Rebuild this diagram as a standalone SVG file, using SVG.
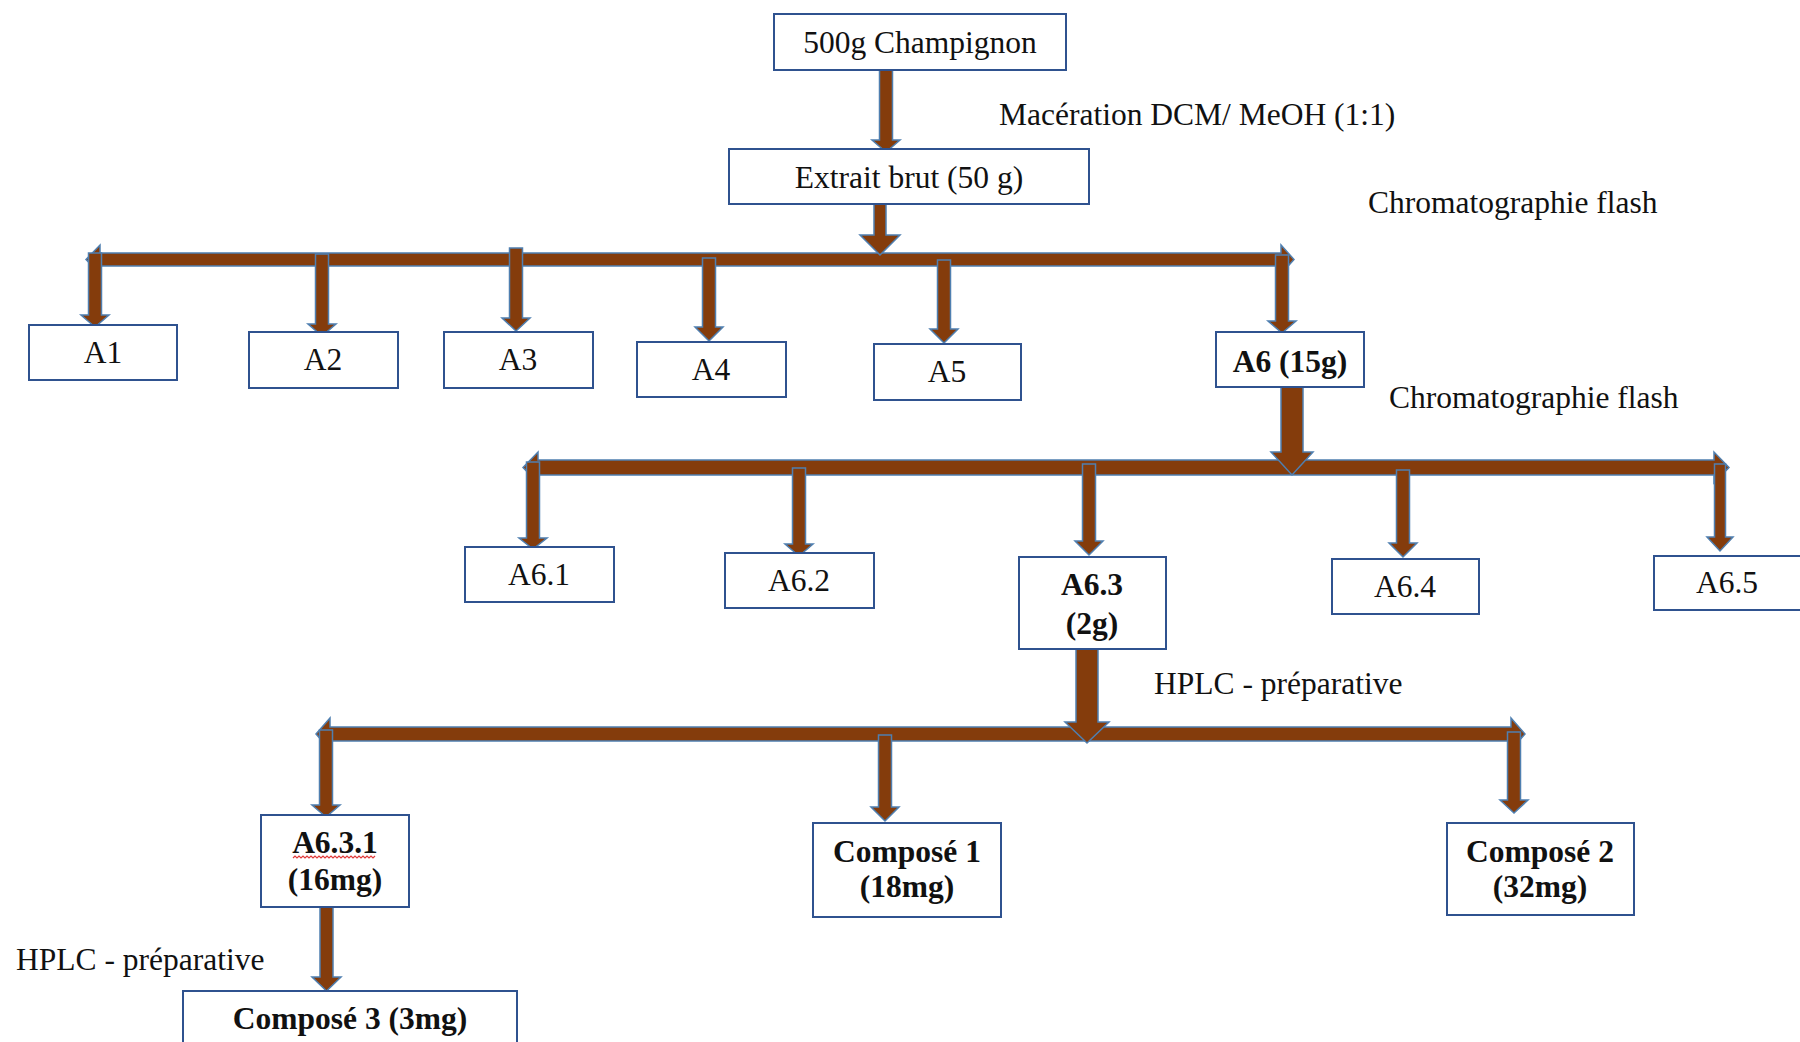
<svg xmlns="http://www.w3.org/2000/svg" width="1800" height="1042" viewBox="0 0 1800 1042">
<defs>
<style>
.box{fill:#fff;stroke:#2F528F;stroke-width:2}
.t{font-family:"Liberation Serif","Times New Roman",serif;font-size:31.5px;fill:#111;text-anchor:middle}
.l{font-family:"Liberation Serif","Times New Roman",serif;font-size:31.5px;fill:#111}
.b{font-weight:bold}
.arr{fill:#843C0C;stroke:#4F7FB0;stroke-width:1.5;stroke-linejoin:miter}
.wavy{fill:none;stroke:#E03A3A;stroke-width:1.2}
</style>
</defs>
<rect width="1800" height="1042" fill="#fff"/>

<g id="connectors">
  <!-- horizontal distribution bars -->
  <path class="arr" d="M86,259.5 L100,245 V253 H1281 V245 L1294,259.5 L1281,274 V266 H100 V274 Z"/>
  <path class="arr" d="M523,467.5 L538,452 V460 H1714 V452 L1729,467.5 L1714,483 V475 H538 V483 Z"/>
  <path class="arr" d="M316,734 L330,718 V727 H1511 V718 L1525,734 L1511,750 V741 H330 V750 Z"/>
  <!-- vertical arrows -->
  <path class="arr" d="M879.5,69 H892.5 V140 H900 L886,152 L872,140 H879.5 Z"/>
  <path class="arr" d="M874,204 H886 V235 H900 L880,255 L860,235 H874 Z"/>
  <path class="arr" d="M88.5,253 H101.5 V315 H109 L95,327 L81,315 H88.5 Z"/>
  <path class="arr" d="M315.5,254 H328.5 V324 H336 L322,336 L308,324 H315.5 Z"/>
  <path class="arr" d="M509.5,248 H522.5 V318 H530 L516,331 L502,318 H509.5 Z"/>
  <path class="arr" d="M702.5,258 H715.5 V327 H723 L709,341 L695,327 H702.5 Z"/>
  <path class="arr" d="M937.5,260 H950.5 V329 H958 L944,343 L930,329 H937.5 Z"/>
  <path class="arr" d="M1275.5,255 H1288.5 V321 H1296 L1282,333 L1268,321 H1275.5 Z"/>
  <path class="arr" d="M1281,387 H1303 V452 H1313 L1292,475 L1271,452 H1281 Z"/>
  <path class="arr" d="M526.5,462 H539.5 V538 H547 L533,549 L519,538 H526.5 Z"/>
  <path class="arr" d="M792.5,468 H805.5 V544 H813 L799,556 L785,544 H792.5 Z"/>
  <path class="arr" d="M1082.5,464 H1095.5 V541 H1103 L1089,555 L1075,541 H1082.5 Z"/>
  <path class="arr" d="M1396.5,470 H1409.5 V543 H1417 L1403,557 L1389,543 H1396.5 Z"/>
  <path class="arr" d="M1714.5,464 H1725.5 V537 H1733 L1720,551 L1707,537 H1714.5 Z"/>
  <path class="arr" d="M1076,649 H1098 V722 H1109 L1087,743 L1065,722 H1076 Z"/>
  <path class="arr" d="M319.5,730 H332.5 V805 H340 L326,817 L312,805 H319.5 Z"/>
  <path class="arr" d="M878.5,735 H891.5 V807 H899 L885,821 L871,807 H878.5 Z"/>
  <path class="arr" d="M1507.5,732 H1520.5 V800 H1528 L1514,813 L1500,800 H1507.5 Z"/>
  <path class="arr" d="M320,907 H333 V977 H341 L326.5,991 L312,977 H320 Z"/>
</g>

<g id="n-champignon"><rect class="box" x="774" y="14" width="292" height="56"/><text class="t" x="920" y="53">500g Champignon</text></g>
<g id="n-extrait"><rect class="box" x="729" y="149" width="360" height="55"/><text class="t" x="909" y="188">Extrait brut (50 g)</text></g>
<g id="n-A1"><rect class="box" x="29" y="325" width="148" height="55"/><text class="t" x="103" y="363">A1</text></g>
<g id="n-A2"><rect class="box" x="249" y="332" width="149" height="56"/><text class="t" x="323" y="370">A2</text></g>
<g id="n-A3"><rect class="box" x="444" y="332" width="149" height="56"/><text class="t" x="518" y="370">A3</text></g>
<g id="n-A4"><rect class="box" x="637" y="342" width="149" height="55"/><text class="t" x="711" y="380">A4</text></g>
<g id="n-A5"><rect class="box" x="874" y="344" width="147" height="56"/><text class="t" x="947" y="382">A5</text></g>
<g id="n-A6"><rect class="box" x="1216" y="332" width="148" height="55"/><text class="t b" x="1290" y="372">A6 (15g)</text></g>
<g id="n-A61"><rect class="box" x="465" y="547" width="149" height="55"/><text class="t" x="539" y="585">A6.1</text></g>
<g id="n-A62"><rect class="box" x="725" y="553" width="149" height="55"/><text class="t" x="799" y="591">A6.2</text></g>
<g id="n-A63"><rect class="box" x="1019" y="557" width="147" height="92"/><text class="t b" x="1092" y="595">A6.3</text><text class="t b" x="1092" y="634">(2g)</text></g>
<g id="n-A64"><rect class="box" x="1332" y="559" width="147" height="55"/><text class="t" x="1405" y="597">A6.4</text></g>
<g id="n-A65"><rect class="box" x="1654" y="556" width="150" height="54"/><text class="t" x="1727" y="593">A6.5</text></g>
<g id="n-A631"><rect class="box" x="261" y="815" width="148" height="92"/><text class="t b" x="335" y="853">A6.3.1</text><path class="wavy" d="M293,858 l2,-2 l2,2 l2,-2 l2,2 l2,-2 l2,2 l2,-2 l2,2 l2,-2 l2,2 l2,-2 l2,2 l2,-2 l2,2 l2,-2 l2,2 l2,-2 l2,2 l2,-2 l2,2 l2,-2 l2,2 l2,-2 l2,2 l2,-2 l2,2 l2,-2 l2,2 l2,-2 l2,2 l2,-2 l2,2 l2,-2 l2,2 l2,-2 l2,2 l2,-2 l2,2 l2,-2 l2,2 l2,-2"/><text class="t b" x="335" y="890">(16mg)</text></g>
<g id="n-C1"><rect class="box" x="813" y="823" width="188" height="94"/><text class="t b" x="907" y="862">Composé 1</text><text class="t b" x="907" y="897">(18mg)</text></g>
<g id="n-C2"><rect class="box" x="1447" y="823" width="187" height="92"/><text class="t b" x="1540" y="862">Composé 2</text><text class="t b" x="1540" y="897">(32mg)</text></g>
<g id="n-C3"><rect class="box" x="183" y="991" width="334" height="70"/><text class="t b" x="350" y="1029">Composé 3 (3mg)</text></g>

<g id="labels">
  <text class="l" x="999" y="125">Macération DCM/ MeOH (1:1)</text>
  <text class="l" x="1368" y="213">Chromatographie flash</text>
  <text class="l" x="1389" y="408">Chromatographie flash</text>
  <text class="l" x="1154" y="694">HPLC - préparative</text>
  <text class="l" x="16" y="970">HPLC - préparative</text>
</g>
</svg>
